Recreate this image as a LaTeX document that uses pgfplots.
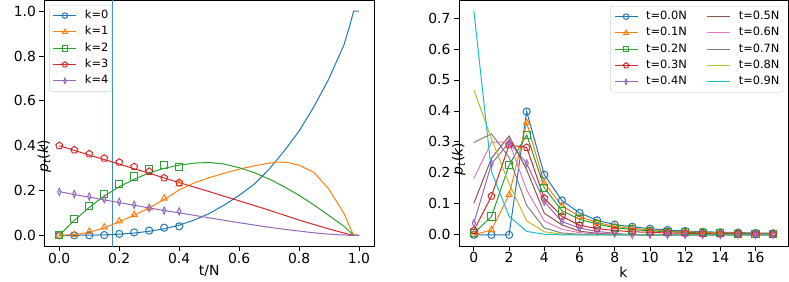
\documentclass[border=0pt]{standalone}
\usepackage{pgfplots}
\pgfplotsset{compat=1.18}
\usepackage{fontspec}
\setmainfont{DejaVu Sans}
\definecolor{c0}{HTML}{1F77B4}
\definecolor{c1}{HTML}{FF7F0E}
\definecolor{c2}{HTML}{2CA02C}
\definecolor{c3}{HTML}{D62728}
\definecolor{c4}{HTML}{9467BD}
\definecolor{c5}{HTML}{8C564B}
\definecolor{c6}{HTML}{E377C2}
\definecolor{c7}{HTML}{7F7F7F}
\definecolor{c8}{HTML}{BCBD22}
\definecolor{c9}{HTML}{17BECF}
\newcommand{\mplfont}{\fontsize{13.9}{16.7}\selectfont}
\newcommand{\legfont}{\fontsize{11.4}{13.7}\selectfont}
\pgfplotsset{
  mpl/.style={
    scale only axis,
    /pgf/number format/assume math mode=true,
    tick label style={font=\mplfont},
    label style={font=\mplfont},
    axis line style={line width=0.8pt},
    tick align=outside, tick pos=left,
    major tick length=4.9pt,
    tick style={black, line width=0.8pt},
    every axis plot/.append style={line width=1pt},
    mark size=3.6pt,
    every mark/.append style={solid, line width=0.9pt},
    legend cell align=left,
    legend image code/.code={\draw[mark repeat=2,mark phase=2,mark size=2.8pt] plot coordinates {(0pt,0pt) (11.5pt,0pt) (23pt,0pt)};},
    xticklabel style={yshift=2pt},
  },
  mpllegend/.style={draw=black!20, rounded corners=2pt, fill=white, font=\legfont,
    inner xsep=3.5pt, inner ysep=4pt,
    nodes={inner sep=0pt, text height=9.5pt, text depth=3.5pt},
    row sep=3.3pt, column sep=8pt},
}
\begin{document}
\begin{tikzpicture}[x=1pt,y=1pt]
\path[use as bounding box] (0,0) rectangle (789,281);
% ---------------- left panel ----------------
\begin{axis}[mpl,
  at={(44.3pt,34.5pt)}, anchor=south west,
  width=329.7pt, height=246.5pt,
  xmin=-0.05, xmax=1.05, ymin=-0.05, ymax=1.05,
  xtick={0,0.2,0.4,0.6,0.8,1.0}, ytick={0,0.2,0.4,0.6,0.8,1.0},
  xticklabel style={/pgf/number format/fixed,/pgf/number format/fixed zerofill,/pgf/number format/precision=1},
  yticklabel style={/pgf/number format/fixed,/pgf/number format/fixed zerofill,/pgf/number format/precision=1},
  xlabel={t/N}, ylabel={\textit{p}\textsubscript{\textit{t}}(\textit{k})},
  xlabel style={at={(axis description cs:0.5,0)}, anchor=center, yshift=-25pt},
  ylabel style={at={(axis description cs:0,0.5)}, anchor=center, xshift=-33pt},
  legend style={mpllegend, at={(0.015,0.98)}, anchor=north west},
]
\addlegendimage{c0, mark=o}\addlegendentry{k=0}
\addlegendimage{c1, mark=triangle}\addlegendentry{k=1}
\addlegendimage{c2, mark=square}\addlegendentry{k=2}
\addlegendimage{c3, mark=pentagon}\addlegendentry{k=3}
\addlegendimage{c4, mark=diamond, mark options={xscale=0.6}}\addlegendentry{k=4}
% vertical line
\addplot[c0!85, line width=1pt, forget plot] coordinates {(0.179,-0.05) (0.179,1.05)};
% theory lines
\addplot[c0, forget plot] coordinates {
(0,0) (0.05,0) (0.1,0.0005) (0.15,0.002) (0.2,0.005) (0.25,0.01) (0.3,0.018) (0.35,0.029) (0.4,0.045)
(0.45,0.068) (0.5,0.097) (0.55,0.135) (0.6,0.178) (0.65,0.228) (0.7,0.295) (0.75,0.375) (0.8,0.465)
(0.85,0.575) (0.9,0.70) (0.95,0.85) (0.97,0.94) (0.982,1.0) (1.0,1.0)};
\addplot[c1, forget plot] coordinates {
(0,0) (0.05,0.003) (0.1,0.013) (0.15,0.033) (0.2,0.06) (0.25,0.09) (0.3,0.122) (0.35,0.16) (0.4,0.202)
(0.45,0.234) (0.5,0.257) (0.55,0.277) (0.6,0.295) (0.65,0.31) (0.7,0.322) (0.73,0.327) (0.76,0.325) (0.8,0.313)
(0.85,0.28) (0.9,0.205) (0.95,0.097) (0.97,0.035) (0.982,0) (1.0,0)};
\addplot[c2, forget plot] coordinates {
(0,0) (0.05,0.066) (0.1,0.125) (0.15,0.175) (0.2,0.217) (0.25,0.25) (0.3,0.279) (0.35,0.299) (0.4,0.313)
(0.45,0.322) (0.5,0.325) (0.55,0.318) (0.6,0.302) (0.65,0.28) (0.7,0.251) (0.75,0.217) (0.8,0.178)
(0.85,0.135) (0.9,0.088) (0.95,0.04) (0.97,0.015) (0.982,0) (1.0,0)};
\addplot[c3, forget plot] coordinates {
(0,0.4) (0.05,0.379) (0.1,0.358) (0.15,0.338) (0.2,0.318) (0.25,0.297) (0.3,0.277) (0.35,0.256) (0.4,0.235)
(0.45,0.215) (0.5,0.195) (0.55,0.174) (0.6,0.154) (0.65,0.133) (0.7,0.112) (0.75,0.09) (0.8,0.068)
(0.85,0.048) (0.9,0.028) (0.95,0.01) (0.97,0.003) (0.982,0.001) (1.0,0)};
\addplot[c4, forget plot] coordinates {
(0,0.195) (0.05,0.182) (0.1,0.17) (0.15,0.158) (0.2,0.146) (0.25,0.134) (0.3,0.122) (0.35,0.111) (0.4,0.1)
(0.45,0.089) (0.5,0.078) (0.55,0.067) (0.6,0.056) (0.65,0.046) (0.7,0.036) (0.75,0.027) (0.8,0.019)
(0.85,0.011) (0.9,0.005) (0.95,0.001) (0.97,0) (0.982,0) (1.0,0)};
% simulation markers
\addplot[c0, only marks, mark=o, forget plot] coordinates {
(0,0) (0.05,0) (0.1,0) (0.15,0.001) (0.2,0.006) (0.25,0.013) (0.3,0.021) (0.35,0.034) (0.4,0.040)};
\addplot[c1, only marks, mark=triangle, forget plot] coordinates {
(0,0) (0.05,0.002) (0.1,0.017) (0.15,0.036) (0.2,0.063) (0.25,0.091) (0.3,0.122) (0.35,0.165) (0.4,0.229)};
\addplot[c2, only marks, mark=square, forget plot] coordinates {
(0,0) (0.05,0.071) (0.1,0.131) (0.15,0.184) (0.2,0.229) (0.25,0.262) (0.3,0.295) (0.35,0.312) (0.4,0.303)};
\addplot[c3, only marks, mark=pentagon, forget plot] coordinates {
(0,0.400) (0.05,0.381) (0.1,0.363) (0.15,0.344) (0.2,0.326) (0.25,0.306) (0.3,0.285) (0.35,0.256) (0.4,0.235)};
\addplot[c4, only marks, mark=diamond, mark options={xscale=0.6}, forget plot] coordinates {
(0,0.194) (0.05,0.184) (0.1,0.173) (0.15,0.161) (0.2,0.149) (0.25,0.136) (0.3,0.122) (0.35,0.110) (0.4,0.107)};
\end{axis}
% ---------------- right panel ----------------
\begin{axis}[mpl,
  at={(458.9pt,35pt)}, anchor=south west,
  width=329.2pt, height=246pt,
  xmin=-0.85, xmax=17.85, ymin=-0.036, ymax=0.758,
  xtick={0,2,4,6,8,10,12,14,16}, ytick={0,0.1,0.2,0.3,0.4,0.5,0.6,0.7},
  yticklabel style={/pgf/number format/fixed,/pgf/number format/fixed zerofill,/pgf/number format/precision=1},
  xlabel={k}, ylabel={\textit{p}\textsubscript{\textit{t}}(\textit{k})},
  xlabel style={at={(axis description cs:0.5,0)}, anchor=center, yshift=-26pt},
  ylabel style={at={(axis description cs:0,0.5)}, anchor=center, xshift=-36pt},
  legend columns=5, legend transposed=true,
  legend style={mpllegend, at={(0.985,0.976)}, anchor=north east,
    /tikz/every even column/.append style={column sep=20pt}},
]
\addplot[c0, mark=o] coordinates {
(0,0) (1,0) (2,0) (3,0.398) (4,0.194) (5,0.111) (6,0.071) (7,0.047) (8,0.033) (9,0.026) (10,0.020) (11,0.0155) (12,0.0125) (13,0.010) (14,0.0085) (15,0.0072) (16,0.0061) (17,0.0052)};
\addlegendentry{t=0.0N}
\addplot[c1, mark=triangle] coordinates {
(0,0) (1,0.016) (2,0.129) (3,0.362) (4,0.167) (5,0.094) (6,0.059) (7,0.040) (8,0.027) (9,0.021) (10,0.016) (11,0.012) (12,0.010) (13,0.008) (14,0.007) (15,0.006) (16,0.005) (17,0.004)};
\addlegendentry{t=0.1N}
\addplot[c2, mark=square] coordinates {
(0,0.005) (1,0.059) (2,0.225) (3,0.323) (4,0.152) (5,0.078) (6,0.050) (7,0.035) (8,0.023) (9,0.017) (10,0.013) (11,0.010) (12,0.008) (13,0.006) (14,0.005) (15,0.004) (16,0.0035) (17,0.003)};
\addlegendentry{t=0.2N}
\addplot[c3, mark=pentagon] coordinates {
(0,0.014) (1,0.125) (2,0.290) (3,0.282) (4,0.118) (5,0.060) (6,0.031) (7,0.020) (8,0.014) (9,0.010) (10,0.008) (11,0.006) (12,0.005) (13,0.004) (14,0.003) (15,0.003) (16,0.002) (17,0.002)};
\addlegendentry{t=0.3N}
\addplot[c4, mark=diamond, mark options={xscale=0.6}] coordinates {
(0,0.038) (1,0.229) (2,0.298) (3,0.231) (4,0.107) (5,0.043) (6,0.022) (7,0.011) (8,0.005) (9,0) (10,0) (11,0) (12,0) (13,0) (14,0) (15,0) (16,0) (17,0)};
\addlegendentry{t=0.4N}
\addplot[c5] coordinates {
(0,0.102) (1,0.247) (2,0.319) (3,0.210) (4,0.070) (5,0.032) (6,0.012) (7,0.005) (8,0.002) (9,0.001) (10,0) (11,0) (12,0) (13,0) (14,0) (15,0) (16,0) (17,0)};
\addlegendentry{t=0.5N}
\addplot[c6] coordinates {
(0,0.182) (1,0.299) (2,0.300) (3,0.145) (4,0.045) (5,0.018) (6,0.007) (7,0.003) (8,0.001) (9,0) (10,0) (11,0) (12,0) (13,0) (14,0) (15,0) (16,0) (17,0)};
\addlegendentry{t=0.6N}
\addplot[c7] coordinates {
(0,0.298) (1,0.326) (2,0.250) (3,0.095) (4,0.022) (5,0.006) (6,0.002) (7,0.001) (8,0) (9,0) (10,0) (11,0) (12,0) (13,0) (14,0) (15,0) (16,0) (17,0)};
\addlegendentry{t=0.7N}
\addplot[c8] coordinates {
(0,0.468) (1,0.310) (2,0.165) (3,0.045) (4,0.010) (5,0.002) (6,0) (7,0) (8,0) (9,0) (10,0) (11,0) (12,0) (13,0) (14,0) (15,0) (16,0) (17,0)};
\addlegendentry{t=0.8N}
\addplot[c9] coordinates {
(0,0.723) (1,0.204) (2,0.060) (3,0.011) (4,0.002) (5,0) (6,0) (7,0) (8,0) (9,0) (10,0) (11,0) (12,0) (13,0) (14,0) (15,0) (16,0) (17,0)};
\addlegendentry{t=0.9N}
\end{axis}
\end{tikzpicture}
\end{document}
